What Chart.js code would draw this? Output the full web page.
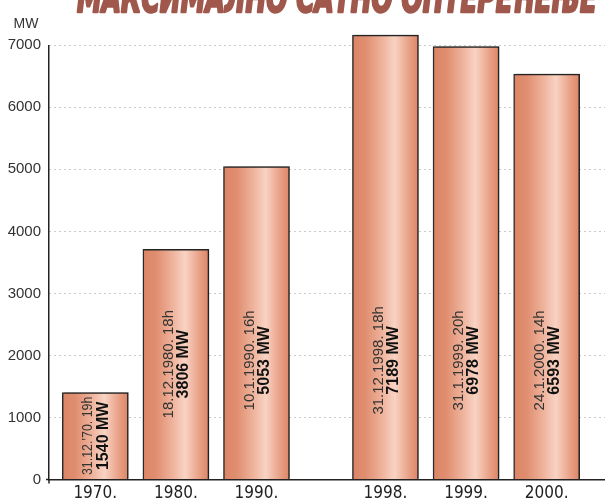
<!DOCTYPE html>
<html>
<head>
<meta charset="utf-8">
<script src="https://cdn.jsdelivr.net/npm/chart.js@4.4.0/dist/chart.umd.min.js"></script>
<style>
  body { margin: 0; background: #fff; }
</style>
</head>
<body>
<canvas id="peakChart" width="605" height="502"></canvas>
<script>
var chartTitle = 'МАКСИМАЛНО САТНО ОПТЕРЕЋЕЊЕ';
var years = ['1970.', '1980.', '1990.', '1998.', '1999.', '2000.'];
// bar heights as drawn in the scan (MW)
var peakLoad = [1400, 3710, 5045, 7165, 6978, 6535];
var peakDates = ['31.12.’70. 19h', '18.12.1980. 18h', '10.1.1990. 16h', '31.12.1998. 18h', '31.1.1999. 20h', '24.1.2000. 14h'];
var peakLabels = ['1540 MW', '3806 MW', '5053 MW', '7189 MW', '6978 MW', '6593 MW'];
var yTicks = [0, 1000, 2000, 3000, 4000, 5000, 6000, 7000];

// slot on the x axis, with a wider gap before 1998
var slot = years.map(function (y, i) { return i + (i >= 3 ? 0.6 : 0); });

var ctx = document.getElementById('peakChart').getContext('2d');

function barFill(c) {
    var chart = c.chart;
    if (c.type !== 'data' || !chart.chartArea) return '#de8a6c';
    var cx = chart.scales.x.getPixelForValue(slot[c.dataIndex]);
    var g = chart.ctx.createLinearGradient(cx - 33, 0, cx + 33, 0);
    g.addColorStop(0, '#dc8566');
    g.addColorStop(0.2, '#e08e70');
    g.addColorStop(0.45, '#eeb39c');
    g.addColorStop(0.64, '#f8d3c3');
    g.addColorStop(0.85, '#e9a288');
    g.addColorStop(1, '#dc8566');
    return g;
}

var annotate = {
    id: 'annotate',
    beforeDatasetsDraw: function (chart) {
        // faint print shadow on the right of the bars
        var c = chart.ctx;
        c.save();
        c.shadowColor = 'rgba(0,0,0,0.22)';
        c.shadowOffsetX = 2;
        c.shadowOffsetY = -1;
        c.shadowBlur = 0;
    },
    afterDatasetsDraw: function (chart) {
        var c = chart.ctx, ys = chart.scales.y, area = chart.chartArea;
        c.restore();
        c.save();
        // small ticks at the origin
        c.strokeStyle = '#222';
        c.lineWidth = 1.5;
        c.beginPath();
        c.moveTo(area.left - 3, area.bottom);
        c.lineTo(area.left, area.bottom);
        c.moveTo(area.left, area.bottom);
        c.lineTo(area.left, area.bottom + 4);
        c.stroke();

        // title, cut off by the top edge like in the scan
        c.fillStyle = '#a0584c';
        c.strokeStyle = '#a0584c';
        c.lineWidth = 2.5;
        c.lineJoin = 'round';
        c.font = 'italic bold 40px "Liberation Sans Narrow", "DejaVu Sans Condensed", sans-serif';
        c.textBaseline = 'alphabetic';
        var w = c.measureText(chartTitle).width;
        c.save();
        c.translate(77, 12);
        c.scale(520 / w, 1);
        c.fillText(chartTitle, 0, 0);
        c.strokeText(chartTitle, 0, 0);
        c.restore();

        c.fillStyle = '#333';
        c.font = '14px "Liberation Sans", sans-serif';
        c.textAlign = 'center';
        c.textBaseline = 'middle';
        c.fillText('MW', 26, 24);

        chart.getDatasetMeta(0).data.forEach(function (bar, i) {
            var mid = Math.max(ys.getPixelForValue(1920), (bar.y + bar.base) / 2);
            var room = bar.base - bar.y - 8;
            c.save();
            c.translate(bar.x, mid);
            c.rotate(-Math.PI / 2);
            c.textAlign = 'center';
            c.textBaseline = 'middle';
            c.font = '15px "Liberation Sans", sans-serif';
            c.fillStyle = '#333';
            c.fillText(peakDates[i], 0, -7, room);
            c.font = 'bold 16px "Liberation Sans", sans-serif';
            c.fillStyle = '#111';
            c.fillText(peakLabels[i], 0, 8, room);
            c.restore();
        });
        c.restore();
    }
};

var peakChart = new Chart(ctx, {
    type: 'bar',
    data: {
        datasets: [{
            label: 'MW',
            data: peakLoad.map(function (v, i) { return { x: slot[i], y: v }; }),
            backgroundColor: barFill,
            borderColor: '#2a2a2a',
            borderWidth: 1.5,
            barThickness: 66,
            clip: false
        }]
    },
    options: {
        responsive: false,
        animation: false,
        layout: { padding: { left: 7, right: 0, top: 45.3, bottom: 0 } },
        plugins: {
            legend: { display: false },
            tooltip: { enabled: false }
        },
        scales: {
            x: {
                type: 'linear',
                bounds: 'data',
                offset: false,
                min: -0.574,
                max: 6.324,
                afterBuildTicks: function (s) {
                    s.ticks = slot.map(function (v) { return { value: v }; });
                },
                afterFit: function (s) { s.height = 22.5; },
                ticks: {
                    callback: function (v, i) { return years[i]; },
                    color: '#222',
                    font: { family: '"Liberation Sans Narrow", "DejaVu Sans Condensed", sans-serif', size: 17 },
                    padding: -4,
                    autoSkip: false,
                    maxRotation: 0
                },
                grid: { display: false, offset: false },
                border: { display: true, color: '#222', width: 1.5 }
            },
            y: {
                min: 0,
                max: 7000,
                afterBuildTicks: function (s) {
                    s.ticks = yTicks.map(function (v) { return { value: v }; });
                },
                afterFit: function (s) { s.width = 42; },
                ticks: {
                    callback: function (v) { return String(v); },
                    color: '#333',
                    font: { family: '"Liberation Sans", sans-serif', size: 15 },
                    padding: 8
                },
                grid: {
                    color: function (c) { return c.tick && c.tick.value === 0 ? 'rgba(0,0,0,0)' : '#999'; },
                    lineWidth: 1,
                    drawTicks: false
                },
                border: { display: true, color: '#222', width: 1.5, dash: [1, 4] }
            }
        }
    },
    plugins: [annotate]
});
</script>
</body>
</html>
